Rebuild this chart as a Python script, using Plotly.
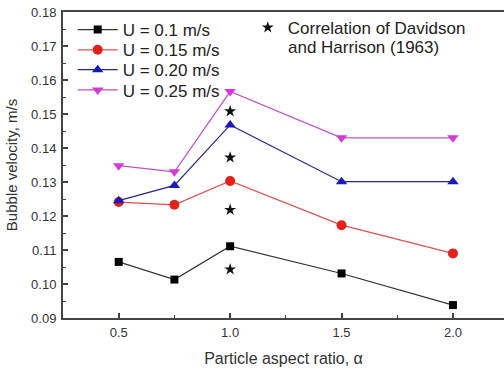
import plotly.graph_objects as go

# Particle aspect ratio (x) and measured bubble rise velocity (m/s) per superficial velocity
aspect_ratio = [0.5, 0.75, 1.0, 1.5, 2.0]
u_010 = [0.1065, 0.1013, 0.1111, 0.1031, 0.0938]
u_015 = [0.1241, 0.1233, 0.1303, 0.1173, 0.1090]
u_020 = [0.1245, 0.1290, 0.1468, 0.1301, 0.1301]
u_025 = [0.1348, 0.1330, 0.1566, 0.1430, 0.1430]

# Davidson & Harrison (1963) correlation, evaluated at alpha = 1.0
corr_x = [1.0, 1.0, 1.0, 1.0]
corr_y = [0.1508, 0.1372, 0.1218, 0.1043]

series = [
    ("U = 0.1 m/s", u_010, "square", "#000000", "#333333", 8),
    ("U = 0.15 m/s", u_015, "circle", "#e3221b", "#d9534f", 10),
    ("U = 0.20 m/s", u_020, "triangle-up", "#1a1ab8", "#26268a", 10),
    ("U = 0.25 m/s", u_025, "triangle-down", "#d63ad6", "#c24fc2", 10),
]

FONT = "Arial, Liberation Sans, sans-serif"

# one legend box per series so the entries can sit at a tight, fixed pitch
legend_names = ["legend", "legend3", "legend4", "legend5"]
legend_y = [0.941, 0.875, 0.810, 0.744]

fig = go.Figure()
for (name, ys, sym, mcol, lcol, msz), lg in zip(series, legend_names):
    fig.add_trace(go.Scatter(
        x=aspect_ratio, y=ys, name=name, mode="lines+markers",
        line=dict(color=lcol, width=1.2),
        marker=dict(symbol=sym, size=msz, color=mcol),
        legend=lg, showlegend=True,
    ))

fig.add_trace(go.Scatter(
    x=corr_x, y=corr_y, mode="markers",
    name="Correlation of Davidson",
    marker=dict(symbol="star", size=9, color="#111111"),
    legend="legend2", showlegend=True,
))

# second line of the correlation legend label
fig.add_annotation(
    text="and Harrison (1963)", xref="paper", yref="paper",
    x=0.505, y=0.8856, xanchor="left", yanchor="middle", showarrow=False,
    font=dict(family=FONT, size=17, color="#222222"),
)

axis_common = dict(
    showgrid=False, zeroline=False, showline=True, linecolor="#444444", linewidth=2,
    ticks="inside", ticklen=5, tickwidth=1.5, tickcolor="#444444",
    tickfont=dict(family=FONT, size=13, color="#333333"),
)

fig.update_xaxes(
    range=[0.25, 2.229], tick0=0.5, dtick=0.5, tickformat=".1f",
    minor=dict(ticks="inside", ticklen=3, tickwidth=1, tickcolor="#444444", dtick=0.25, tick0=0.25),
    mirror=True, ticklabelstandoff=1,
    title=dict(text="Particle aspect ratio, α", font=dict(family=FONT, size=16, color="#333333"), standoff=14),
    **axis_common,
)
fig.update_yaxes(
    range=[0.09, 0.18], tick0=0.09, dtick=0.01, tickformat=".2f",
    minor=dict(ticks="inside", ticklen=3, tickwidth=1, tickcolor="#444444", dtick=0.005),
    ticklabelstandoff=2,
    title=dict(text="Bubble velocity, m/s", font=dict(family=FONT, size=15, color="#333333"), standoff=10),
    **axis_common,
)

legend_common = dict(
    xanchor="left", yanchor="middle", bgcolor="rgba(0,0,0,0)",
    font=dict(family=FONT, size=17, color="#222222"),
)
layout_legends = {
    lg: dict(x=0.022, y=ly, itemwidth=40, **legend_common)
    for lg, ly in zip(legend_names, legend_y)
}
layout_legends["legend2"] = dict(x=0.419, y=0.948, itemwidth=30, **legend_common)

fig.update_layout(
    width=504, height=370,
    margin=dict(l=63, r=0, t=12, b=52),
    paper_bgcolor="white", plot_bgcolor="white",
    font=dict(family=FONT, color="#222222"),
    showlegend=True,
    **layout_legends,
)

fig.write_html("out.html")
